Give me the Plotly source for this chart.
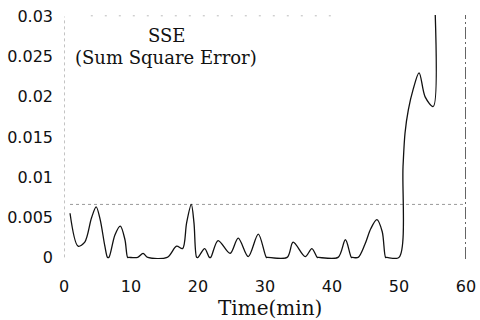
import plotly.graph_objects as go

# SSE curve
time_min = [0.9, 2.1, 3.1, 4.1, 4.8, 5.4, 6.1, 6.5, 6.7, 7.6, 8.4, 9.1, 9.5, 9.7, 11.0, 11.8,
            12.5, 15.4, 16.8, 17.7, 18.3, 19.0, 19.4, 19.8, 20.0, 21.0, 21.7, 21.9, 23.0,
            24.8, 26.0, 27.5, 29.0, 30.2, 30.4, 33.3, 34.2, 36.0, 37.0, 37.8, 38.0, 40.9,
            42.0, 42.9, 43.1, 43.9, 44.9, 45.8, 46.7, 47.5, 48.0, 48.2, 50.0, 50.6, 50.9,
            51.4, 52.1, 53.0, 53.9, 55.1, 55.4]
sse = [0.0055, 0.0014, 0.0019, 0.0049, 0.0063, 0.0047, 0.0014, 0.0, 0.0, 0.0028, 0.0039,
       0.0022, 0.0, 0.0, 0.0, 0.0005, 0.0, 0.0, 0.0014, 0.0011, 0.0043, 0.0066, 0.0043,
       0.0, 0.0, 0.0011, 0.0, 0.0, 0.0021, 0.0005, 0.0024, 0.0001, 0.0029, 0.0, 0.0, 0.0,
       0.0019, 0.0001, 0.0011, 0.0, 0.0, 0.0, 0.0022, 0.0, 0.0, 0.0, 0.0016, 0.0036,
       0.0047, 0.0032, 0.0, 0.0, 0.0, 0.0113, 0.0155, 0.0184, 0.0209, 0.0230, 0.0200,
       0.0188, 0.0305]

threshold = 0.0066
threshold_span = [0.9, 60.0]
end_time = 60
top_dots_span = [4.0, 40.0]

x_ticks = [0, 10, 20, 30, 40, 50, 60]
y_ticks = [0, 0.005, 0.01, 0.015, 0.02, 0.025, 0.03]
y_tick_text = ["0", "0.005", "0.01", "0.015", "0.02", "0.025", "0.03"]

fig = go.Figure()

# dotted y-axis line
fig.add_trace(go.Scatter(x=[0, 0], y=[0, 0.03], mode="lines",
                         line=dict(color="#888", width=1, dash="dot"), hoverinfo="skip"))
# faint dotted top line
fig.add_trace(go.Scatter(x=top_dots_span, y=[0.0301, 0.0301], mode="lines",
                         line=dict(color="#bbb", width=1, dash="2px,12px"), hoverinfo="skip"))
# threshold dotted line
fig.add_trace(go.Scatter(x=threshold_span, y=[threshold, threshold], mode="lines",
                         line=dict(color="#999", width=1, dash="dot"), hoverinfo="skip"))
# end-of-time dash-dot line
fig.add_trace(go.Scatter(x=[end_time, end_time], y=[-0.0002, 0.0302], mode="lines",
                         line=dict(color="#111", width=1.3, dash="12px,3px,2px,3px"),
                         hoverinfo="skip"))
# SSE curve
fig.add_trace(go.Scatter(x=time_min, y=sse, mode="lines",
                         line=dict(color="#111", width=1.3, shape="spline", smoothing=0.9)))

fig.add_annotation(x=15.4, y=0.0276, text="SSE", showarrow=False,
                   font=dict(family="DejaVu Serif", size=18, color="#111"))
fig.add_annotation(x=15.2, y=0.0249, text="(Sum Square Error)", showarrow=False,
                   font=dict(family="DejaVu Serif", size=18, color="#111"))
# x-axis title
fig.add_annotation(x=30.7, xref="x", y=-0.202, yref="paper", yanchor="middle",
                   text="Time(min)", showarrow=False,
                   font=dict(family="DejaVu Serif", size=20, color="#111"))

fig.update_layout(
    width=480, height=320,
    margin=dict(l=64, r=14, t=15, b=61),
    paper_bgcolor="white", plot_bgcolor="white",
    showlegend=False,
    xaxis=dict(range=[0, 60], tickvals=x_ticks, showgrid=False, zeroline=False,
               showline=False, ticks="", ticklabelstandoff=16, automargin=False,
               tickfont=dict(family="DejaVu Sans", size=16, color="#111")),
    yaxis=dict(range=[-0.0002, 0.0302], tickvals=y_ticks, ticktext=y_tick_text,
               showgrid=False, zeroline=False, showline=False, ticks="",
               ticklabelstandoff=10, automargin=False,
               tickfont=dict(family="DejaVu Sans", size=16, color="#111")),
)

fig.write_html("out.html")
